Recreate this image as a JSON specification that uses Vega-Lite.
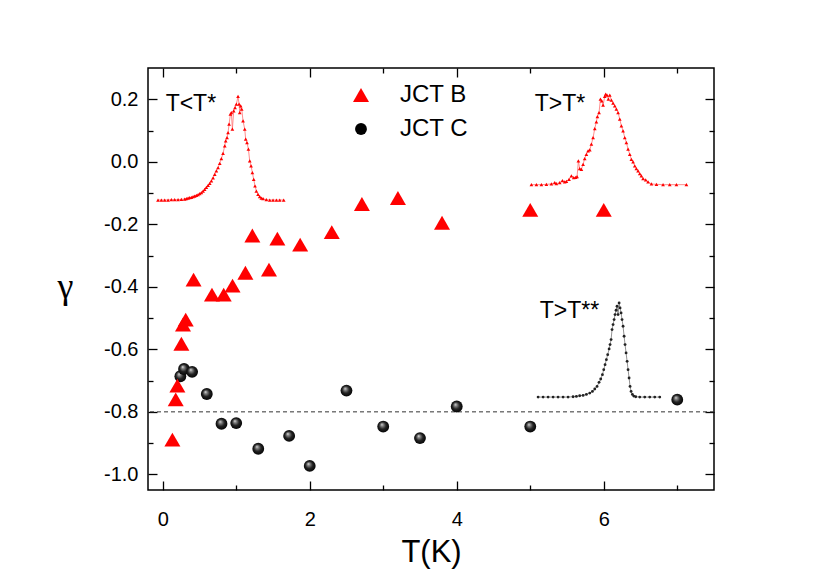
{
  "$schema": "https://vega.github.io/schema/vega-lite/v6.json",
  "width": 566,
  "height": 422,
  "autosize": "none",
  "padding": {"left": 148, "top": 68, "right": 116, "bottom": 98},
  "background": "white",
  "config": {
    "font": "Liberation Sans",
    "view": {"stroke": "black", "strokeWidth": 1.5},
    "legend": {"orient": "none", "legendX": 201, "legendY": 15, "labelFontSize": 24, "labelFont": "Liberation Sans", "labelColor": "black", "labelOffset": 27, "rowPadding": 10, "padding": 0, "symbolStrokeWidth": 0, "symbolOpacity": 1}
  },
  "datasets": {
    "jct": [
      {"series": "JCT C", "T": 0.24, "gamma": -0.686},
      {"series": "JCT C", "T": 0.29, "gamma": -0.663},
      {"series": "JCT C", "T": 0.40, "gamma": -0.672},
      {"series": "JCT C", "T": 0.60, "gamma": -0.743},
      {"series": "JCT C", "T": 0.80, "gamma": -0.838},
      {"series": "JCT C", "T": 1.00, "gamma": -0.836},
      {"series": "JCT C", "T": 1.30, "gamma": -0.918},
      {"series": "JCT C", "T": 1.72, "gamma": -0.877},
      {"series": "JCT C", "T": 2.00, "gamma": -0.973},
      {"series": "JCT C", "T": 2.50, "gamma": -0.732},
      {"series": "JCT C", "T": 3.00, "gamma": -0.847},
      {"series": "JCT C", "T": 3.50, "gamma": -0.884},
      {"series": "JCT C", "T": 4.00, "gamma": -0.783},
      {"series": "JCT C", "T": 5.00, "gamma": -0.847},
      {"series": "JCT C", "T": 7.00, "gamma": -0.761},
      {"series": "JCT B", "T": 0.132, "gamma": -0.889},
      {"series": "JCT B", "T": 0.177, "gamma": -0.760},
      {"series": "JCT B", "T": 0.200, "gamma": -0.716},
      {"series": "JCT B", "T": 0.254, "gamma": -0.582},
      {"series": "JCT B", "T": 0.276, "gamma": -0.521},
      {"series": "JCT B", "T": 0.313, "gamma": -0.505},
      {"series": "JCT B", "T": 0.42, "gamma": -0.377},
      {"series": "JCT B", "T": 0.67, "gamma": -0.425},
      {"series": "JCT B", "T": 0.83, "gamma": -0.425},
      {"series": "JCT B", "T": 0.95, "gamma": -0.396},
      {"series": "JCT B", "T": 1.125, "gamma": -0.355},
      {"series": "JCT B", "T": 1.22, "gamma": -0.236},
      {"series": "JCT B", "T": 1.446, "gamma": -0.345},
      {"series": "JCT B", "T": 1.56, "gamma": -0.246},
      {"series": "JCT B", "T": 1.87, "gamma": -0.265},
      {"series": "JCT B", "T": 2.30, "gamma": -0.225},
      {"series": "JCT B", "T": 2.71, "gamma": -0.135},
      {"series": "JCT B", "T": 3.20, "gamma": -0.116},
      {"series": "JCT B", "T": 3.80, "gamma": -0.195},
      {"series": "JCT B", "T": 5.00, "gamma": -0.154},
      {"series": "JCT B", "T": 6.00, "gamma": -0.154}
    ],
    "dist": [
      {"c": "A", "T": -0.064, "g": -0.1223}, {"c": "A", "T": -0.018, "g": -0.1223}, {"c": "A", "T": 0.027, "g": -0.1223},
      {"c": "A", "T": 0.073, "g": -0.1223}, {"c": "A", "T": 0.118, "g": -0.1213}, {"c": "A", "T": 0.163, "g": -0.1213},
      {"c": "A", "T": 0.209, "g": -0.1213}, {"c": "A", "T": 0.254, "g": -0.1202}, {"c": "A", "T": 0.299, "g": -0.1191},
      {"c": "A", "T": 0.322, "g": -0.1181}, {"c": "A", "T": 0.345, "g": -0.1159}, {"c": "A", "T": 0.367, "g": -0.1149},
      {"c": "A", "T": 0.390, "g": -0.1138}, {"c": "A", "T": 0.413, "g": -0.1116}, {"c": "A", "T": 0.435, "g": -0.1095},
      {"c": "A", "T": 0.458, "g": -0.1074}, {"c": "A", "T": 0.481, "g": -0.1052}, {"c": "A", "T": 0.503, "g": -0.1020},
      {"c": "A", "T": 0.526, "g": -0.0988}, {"c": "A", "T": 0.549, "g": -0.0935}, {"c": "A", "T": 0.571, "g": -0.0881},
      {"c": "A", "T": 0.594, "g": -0.0817}, {"c": "A", "T": 0.617, "g": -0.0753}, {"c": "A", "T": 0.640, "g": -0.0689},
      {"c": "A", "T": 0.662, "g": -0.0614}, {"c": "A", "T": 0.685, "g": -0.0518}, {"c": "A", "T": 0.708, "g": -0.0401},
      {"c": "A", "T": 0.730, "g": -0.0294}, {"c": "A", "T": 0.753, "g": -0.0187}, {"c": "A", "T": 0.776, "g": -0.0048},
      {"c": "A", "T": 0.798, "g": 0.0102}, {"c": "A", "T": 0.821, "g": 0.0272}, {"c": "A", "T": 0.844, "g": 0.0507},
      {"c": "A", "T": 0.857, "g": 0.0668}, {"c": "A", "T": 0.875, "g": 0.0775}, {"c": "A", "T": 0.889, "g": 0.0935},
      {"c": "A", "T": 0.903, "g": 0.1202}, {"c": "A", "T": 0.921, "g": 0.1522}, {"c": "A", "T": 0.934, "g": 0.1576},
      {"c": "A", "T": 0.948, "g": 0.1042}, {"c": "A", "T": 0.966, "g": 0.1629}, {"c": "A", "T": 0.984, "g": 0.1736},
      {"c": "A", "T": 1.002, "g": 0.1843}, {"c": "A", "T": 1.025, "g": 0.2089}, {"c": "A", "T": 1.039, "g": 0.1843},
      {"c": "A", "T": 1.048, "g": 0.1576}, {"c": "A", "T": 1.061, "g": 0.1790}, {"c": "A", "T": 1.075, "g": 0.1683},
      {"c": "A", "T": 1.093, "g": 0.1309}, {"c": "A", "T": 1.116, "g": 0.1042}, {"c": "A", "T": 1.129, "g": 0.0721},
      {"c": "A", "T": 1.147, "g": 0.0614}, {"c": "A", "T": 1.166, "g": 0.0401}, {"c": "A", "T": 1.184, "g": 0.0027},
      {"c": "A", "T": 1.202, "g": -0.0134}, {"c": "A", "T": 1.220, "g": -0.0347}, {"c": "A", "T": 1.238, "g": -0.0561},
      {"c": "A", "T": 1.256, "g": -0.0775}, {"c": "A", "T": 1.274, "g": -0.0935}, {"c": "A", "T": 1.297, "g": -0.1042},
      {"c": "A", "T": 1.320, "g": -0.1116}, {"c": "A", "T": 1.342, "g": -0.1159}, {"c": "A", "T": 1.365, "g": -0.1181},
      {"c": "A", "T": 1.410, "g": -0.1213}, {"c": "A", "T": 1.456, "g": -0.1223}, {"c": "A", "T": 1.501, "g": -0.1223},
      {"c": "A", "T": 1.547, "g": -0.1223}, {"c": "A", "T": 1.592, "g": -0.1223}, {"c": "A", "T": 1.646, "g": -0.1223},
      {"c": "B", "T": 5.016, "g": -0.0732}, {"c": "B", "T": 5.084, "g": -0.0732}, {"c": "B", "T": 5.152, "g": -0.0732},
      {"c": "B", "T": 5.220, "g": -0.0721}, {"c": "B", "T": 5.288, "g": -0.0710}, {"c": "B", "T": 5.333, "g": -0.0668},
      {"c": "B", "T": 5.356, "g": -0.0700}, {"c": "B", "T": 5.401, "g": -0.0668}, {"c": "B", "T": 5.438, "g": -0.0604},
      {"c": "B", "T": 5.469, "g": -0.0646}, {"c": "B", "T": 5.492, "g": -0.0625}, {"c": "B", "T": 5.528, "g": -0.0561},
      {"c": "B", "T": 5.560, "g": -0.0454}, {"c": "B", "T": 5.592, "g": -0.0507}, {"c": "B", "T": 5.619, "g": -0.0497},
      {"c": "B", "T": 5.637, "g": -0.0475}, {"c": "B", "T": 5.655, "g": 0.0027}, {"c": "B", "T": 5.673, "g": -0.0219},
      {"c": "B", "T": 5.696, "g": -0.0240}, {"c": "B", "T": 5.719, "g": -0.0080}, {"c": "B", "T": 5.741, "g": 0.0102},
      {"c": "B", "T": 5.764, "g": 0.0240}, {"c": "B", "T": 5.787, "g": 0.0347}, {"c": "B", "T": 5.810, "g": 0.0379},
      {"c": "B", "T": 5.832, "g": 0.0561}, {"c": "B", "T": 5.855, "g": 0.0775}, {"c": "B", "T": 5.878, "g": 0.1063},
      {"c": "B", "T": 5.900, "g": 0.1277}, {"c": "B", "T": 5.914, "g": 0.1448}, {"c": "B", "T": 5.936, "g": 0.1576},
      {"c": "B", "T": 5.955, "g": 0.2003}, {"c": "B", "T": 5.973, "g": 0.1950}, {"c": "B", "T": 5.991, "g": 0.1811},
      {"c": "B", "T": 6.014, "g": 0.2089}, {"c": "B", "T": 6.027, "g": 0.2163}, {"c": "B", "T": 6.045, "g": 0.2131},
      {"c": "B", "T": 6.063, "g": 0.2003}, {"c": "B", "T": 6.082, "g": 0.2131}, {"c": "B", "T": 6.104, "g": 0.1971},
      {"c": "B", "T": 6.127, "g": 0.1875}, {"c": "B", "T": 6.150, "g": 0.1790}, {"c": "B", "T": 6.172, "g": 0.1683},
      {"c": "B", "T": 6.195, "g": 0.1576}, {"c": "B", "T": 6.218, "g": 0.1362}, {"c": "B", "T": 6.240, "g": 0.1149},
      {"c": "B", "T": 6.263, "g": 0.0988}, {"c": "B", "T": 6.286, "g": 0.0775}, {"c": "B", "T": 6.308, "g": 0.0614},
      {"c": "B", "T": 6.331, "g": 0.0401}, {"c": "B", "T": 6.354, "g": 0.0240}, {"c": "B", "T": 6.376, "g": 0.0080},
      {"c": "B", "T": 6.399, "g": -0.0005}, {"c": "B", "T": 6.422, "g": -0.0134}, {"c": "B", "T": 6.444, "g": -0.0219},
      {"c": "B", "T": 6.467, "g": -0.0294}, {"c": "B", "T": 6.490, "g": -0.0379}, {"c": "B", "T": 6.512, "g": -0.0454},
      {"c": "B", "T": 6.535, "g": -0.0540}, {"c": "B", "T": 6.571, "g": -0.0582}, {"c": "B", "T": 6.603, "g": -0.0646},
      {"c": "B", "T": 6.649, "g": -0.0710}, {"c": "B", "T": 6.717, "g": -0.0721}, {"c": "B", "T": 6.807, "g": -0.0732},
      {"c": "B", "T": 6.898, "g": -0.0732}, {"c": "B", "T": 6.989, "g": -0.0732}, {"c": "B", "T": 7.125, "g": -0.0732},
      {"c": "C", "T": 5.107, "g": -0.7527}, {"c": "C", "T": 5.175, "g": -0.7527}, {"c": "C", "T": 5.243, "g": -0.7527},
      {"c": "C", "T": 5.311, "g": -0.7527}, {"c": "C", "T": 5.379, "g": -0.7527}, {"c": "C", "T": 5.447, "g": -0.7527},
      {"c": "C", "T": 5.515, "g": -0.7527}, {"c": "C", "T": 5.583, "g": -0.7516}, {"c": "C", "T": 5.628, "g": -0.7505},
      {"c": "C", "T": 5.673, "g": -0.7484}, {"c": "C", "T": 5.719, "g": -0.7473}, {"c": "C", "T": 5.764, "g": -0.7441},
      {"c": "C", "T": 5.810, "g": -0.7399}, {"c": "C", "T": 5.846, "g": -0.7345}, {"c": "C", "T": 5.878, "g": -0.7270},
      {"c": "C", "T": 5.909, "g": -0.7185}, {"c": "C", "T": 5.936, "g": -0.7057}, {"c": "C", "T": 5.959, "g": -0.6950},
      {"c": "C", "T": 5.982, "g": -0.6811}, {"c": "C", "T": 6.000, "g": -0.6651}, {"c": "C", "T": 6.018, "g": -0.6490},
      {"c": "C", "T": 6.036, "g": -0.6330}, {"c": "C", "T": 6.054, "g": -0.6170}, {"c": "C", "T": 6.073, "g": -0.5988},
      {"c": "C", "T": 6.086, "g": -0.5849}, {"c": "C", "T": 6.100, "g": -0.5689}, {"c": "C", "T": 6.113, "g": -0.5369},
      {"c": "C", "T": 6.127, "g": -0.5208}, {"c": "C", "T": 6.141, "g": -0.5048}, {"c": "C", "T": 6.154, "g": -0.4888},
      {"c": "C", "T": 6.168, "g": -0.4749}, {"c": "C", "T": 6.181, "g": -0.4621}, {"c": "C", "T": 6.195, "g": -0.4888},
      {"c": "C", "T": 6.209, "g": -0.4514}, {"c": "C", "T": 6.222, "g": -0.4674}, {"c": "C", "T": 6.236, "g": -0.4834},
      {"c": "C", "T": 6.249, "g": -0.5048}, {"c": "C", "T": 6.263, "g": -0.5262}, {"c": "C", "T": 6.277, "g": -0.5582},
      {"c": "C", "T": 6.290, "g": -0.5849}, {"c": "C", "T": 6.304, "g": -0.6116}, {"c": "C", "T": 6.318, "g": -0.6384},
      {"c": "C", "T": 6.331, "g": -0.6651}, {"c": "C", "T": 6.345, "g": -0.6918}, {"c": "C", "T": 6.358, "g": -0.7185},
      {"c": "C", "T": 6.372, "g": -0.7345}, {"c": "C", "T": 6.390, "g": -0.7441}, {"c": "C", "T": 6.408, "g": -0.7495},
      {"c": "C", "T": 6.435, "g": -0.7516}, {"c": "C", "T": 6.490, "g": -0.7527}, {"c": "C", "T": 6.558, "g": -0.7527},
      {"c": "C", "T": 6.626, "g": -0.7527}, {"c": "C", "T": 6.694, "g": -0.7527}, {"c": "C", "T": 6.762, "g": -0.7527}
    ],
    "notes": [
      {"text": "T<T*", "T": 0.04, "g": 0.163},
      {"text": "T>T*", "T": 5.06, "g": 0.163},
      {"text": "T>T**", "T": 5.13, "g": -0.499}
    ]
  },
  "layer": [
    {
      "data": {"values": [{"level": -0.8}]},
      "mark": {"type": "rule", "stroke": "#333333", "strokeWidth": 1, "strokeDash": [4, 3]},
      "encoding": {
        "y": {"field": "level", "type": "quantitative", "scale": {"domain": [-1.05, 0.3], "nice": false, "zero": false}, "axis": null}
      }
    },
    {
      "data": {"name": "dist"},
      "transform": [{"filter": "datum.c != 'C'"}],
      "mark": {"type": "line", "stroke": "#ff7070", "strokeWidth": 0.8},
      "encoding": {
        "x": {"field": "T", "type": "quantitative", "scale": {"domain": [-0.2, 7.5], "nice": false, "zero": false},
          "axis": {"orient": "top", "values": [0, 2, 4, 6], "labels": false, "title": null, "domain": false, "grid": false, "tickSize": -9, "tickColor": "black", "tickWidth": 1.3}},
        "y": {"field": "g", "type": "quantitative", "scale": {"domain": [-1.05, 0.3], "nice": false, "zero": false},
          "axis": {"orient": "right", "values": [-1.0, -0.8, -0.6, -0.4, -0.2, 0.0, 0.2], "labels": false, "title": null, "domain": false, "grid": false, "tickSize": -9, "tickColor": "black", "tickWidth": 1.3}},
        "detail": {"field": "c", "type": "nominal"}
      }
    },
    {
      "data": {"name": "dist"},
      "transform": [{"filter": "datum.c != 'C'"}],
      "mark": {"type": "point", "shape": "triangle-up", "filled": true, "fill": "#ff0000", "opacity": 1, "strokeWidth": 0, "size": 14},
      "encoding": {
        "x": {"field": "T", "type": "quantitative", "scale": {"domain": [-0.2, 7.5], "nice": false, "zero": false},
          "axis": {"orient": "bottom", "values": [1, 3, 5, 7], "labels": false, "title": null, "domain": false, "grid": false, "tickSize": -5, "tickColor": "black", "tickWidth": 1.3}},
        "y": {"field": "g", "type": "quantitative", "scale": {"domain": [-1.05, 0.3], "nice": false, "zero": false},
          "axis": {"orient": "left", "values": [-0.9, -0.7, -0.5, -0.3, -0.1, 0.1], "labels": false, "title": null, "domain": false, "grid": false, "tickSize": -5, "tickColor": "black", "tickWidth": 1.3}}
      }
    },
    {
      "data": {"name": "dist"},
      "transform": [{"filter": "datum.c == 'C'"}],
      "mark": {"type": "line", "stroke": "#777777", "strokeWidth": 0.8},
      "encoding": {
        "x": {"field": "T", "type": "quantitative", "scale": {"domain": [-0.2, 7.5], "nice": false, "zero": false},
          "axis": {"orient": "top", "values": [1, 3, 5, 7], "labels": false, "title": null, "domain": false, "grid": false, "tickSize": -5, "tickColor": "black", "tickWidth": 1.3}},
        "y": {"field": "g", "type": "quantitative", "scale": {"domain": [-1.05, 0.3], "nice": false, "zero": false},
          "axis": {"orient": "right", "values": [-0.9, -0.7, -0.5, -0.3, -0.1, 0.1], "labels": false, "title": null, "domain": false, "grid": false, "tickSize": -5, "tickColor": "black", "tickWidth": 1.3}}
      }
    },
    {
      "data": {"name": "dist"},
      "transform": [{"filter": "datum.c == 'C'"}],
      "mark": {"type": "point", "shape": "circle", "filled": true, "fill": "#222222", "opacity": 1, "strokeWidth": 0, "size": 8},
      "encoding": {
        "x": {"field": "T", "type": "quantitative", "scale": {"domain": [-0.2, 7.5], "nice": false, "zero": false}, "axis": null},
        "y": {"field": "g", "type": "quantitative", "scale": {"domain": [-1.05, 0.3], "nice": false, "zero": false}, "axis": null}
      }
    },
    {
      "data": {"name": "jct"},
      "transform": [{"filter": "datum.series == 'JCT C'"}],
      "mark": {"type": "point", "shape": "circle", "filled": true, "opacity": 1, "strokeWidth": 0, "size": 140,
        "fill": {"gradient": "radial", "x1": 0.38, "y1": 0.32, "r1": 0, "x2": 0.5, "y2": 0.5, "r2": 0.55,
          "stops": [{"offset": 0, "color": "#e8e8e8"}, {"offset": 0.2, "color": "#8a8a8a"}, {"offset": 0.55, "color": "#222222"}, {"offset": 1, "color": "#000000"}]}},
      "encoding": {
        "x": {"field": "T", "type": "quantitative", "scale": {"domain": [-0.2, 7.5], "nice": false, "zero": false}, "axis": null},
        "y": {"field": "gamma", "type": "quantitative", "scale": {"domain": [-1.05, 0.3], "nice": false, "zero": false}, "axis": null}
      }
    },
    {
      "data": {"name": "jct"},
      "transform": [{"filter": "datum.series == 'JCT B'"}],
      "mark": {"type": "point", "filled": true, "opacity": 1, "strokeWidth": 0},
      "encoding": {
        "x": {"field": "T", "type": "quantitative", "scale": {"domain": [-0.2, 7.5], "nice": false, "zero": false},
          "axis": {"orient": "bottom", "values": [0, 2, 4, 6], "domain": false, "grid": false, "tickSize": -9, "tickColor": "black", "tickWidth": 1.3,
            "labelPadding": 28, "labelFontSize": 20, "labelColor": "black", "labelFont": "Liberation Sans",
            "title": "T(K)", "titleFontSize": 31, "titlePadding": 8, "titleColor": "black", "titleFont": "Liberation Sans", "titleFontWeight": "normal"}},
        "y": {"field": "gamma", "type": "quantitative", "scale": {"domain": [-1.05, 0.3], "nice": false, "zero": false},
          "axis": {"orient": "left", "values": [-1.0, -0.8, -0.6, -0.4, -0.2, 0.0, 0.2], "domain": false, "grid": false, "tickSize": -9, "tickColor": "black", "tickWidth": 1.3,
            "labelExpr": "(datum.value < -0.001 ? '-' : '') + format(abs(datum.value), '.1f')",
            "labelPadding": 19, "labelFontSize": 20, "labelColor": "black", "labelFont": "Liberation Sans",
            "title": "γ", "titleFont": "Liberation Serif", "titleFontSize": 36, "titleFontWeight": "normal", "titleColor": "black", "titleAngle": 0, "titleAlign": "center", "titleBaseline": "middle", "titleX": -83, "titleY": 218}},
        "shape": {"field": "series", "type": "nominal", "scale": {"domain": ["JCT B", "JCT C"], "range": ["triangle-up", "circle"]}, "legend": {"title": null}},
        "fill": {"field": "series", "type": "nominal", "scale": {"domain": ["JCT B", "JCT C"], "range": ["#ff0000", "#000000"]}, "legend": {"title": null}},
        "size": {"field": "series", "type": "nominal", "scale": {"domain": ["JCT B", "JCT C"], "range": [256, 140]}, "legend": {"title": null}}
      }
    },
    {
      "data": {"name": "notes"},
      "mark": {"type": "text", "align": "left", "baseline": "alphabetic", "fontSize": 23, "color": "black", "font": "Liberation Sans"},
      "encoding": {
        "x": {"field": "T", "type": "quantitative", "scale": {"domain": [-0.2, 7.5], "nice": false, "zero": false}, "axis": null},
        "y": {"field": "g", "type": "quantitative", "scale": {"domain": [-1.05, 0.3], "nice": false, "zero": false}, "axis": null},
        "text": {"field": "text", "type": "nominal"}
      }
    }
  ]
}
